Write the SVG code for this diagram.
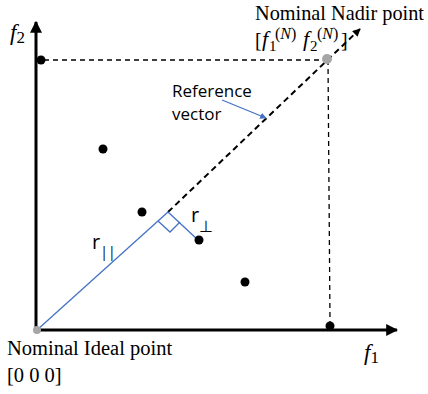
<svg xmlns="http://www.w3.org/2000/svg" width="428" height="394" viewBox="0 0 428 394">
<defs>
<style>
.serif{font-family:"Liberation Serif","Times New Roman",serif;fill:#000}
.sans{font-family:"Open Sans","Liberation Sans",Arial,sans-serif;fill:#000}
.axis{stroke:#000;stroke-width:3;fill:none}
.dash{stroke:#000;stroke-width:1.3;stroke-dasharray:5,4;fill:none}
.dashb{stroke:#000;stroke-width:2;stroke-dasharray:6,4;fill:none}
.blue{stroke:#4472C4;stroke-width:1.3;fill:none}
.dot{fill:#000}
.gdot{fill:#a6a6a6}
</style>
<marker id="ah" viewBox="0 0 10 10" refX="9" refY="5" markerWidth="4" markerHeight="4" orient="auto" markerUnits="strokeWidth"><path d="M0,0 L10,5 L0,10 z" fill="#000"/></marker>
<marker id="ahd" viewBox="0 0 10 10" refX="9" refY="5" markerWidth="4" markerHeight="4" orient="auto" markerUnits="strokeWidth"><path d="M0,0 L10,5 L0,10 z" fill="#000"/></marker>
<marker id="ahb" viewBox="0 0 10 10" refX="9" refY="5" markerWidth="5" markerHeight="5" orient="auto" markerUnits="strokeWidth"><path d="M0,0 L10,5 L0,10 z" fill="#4472C4"/></marker>
</defs>
<g id="connectors">
<line class="axis" x1="36" y1="330" x2="36" y2="22" marker-end="url(#ah)"/>
<line class="axis" x1="36" y1="330" x2="397" y2="330" marker-end="url(#ah)"/>
<line class="dash" x1="44" y1="60" x2="327" y2="60"/>
<line class="dash" x1="328" y1="60" x2="330" y2="322"/>
<line class="dashb" x1="168" y1="212" x2="360" y2="29" marker-end="url(#ahd)"/>
<line class="blue" x1="37" y1="330" x2="168" y2="212"/>
<line class="blue" x1="168" y1="212" x2="198" y2="240"/>
<polyline class="blue" points="158,221 170,232 180,222"/>
<line class="blue" x1="222" y1="100" x2="266" y2="118" marker-end="url(#ahb)"/>
</g>
<g id="ideal-point"><circle class="gdot" cx="37" cy="330" r="4"/>
<text class="serif" x="7" y="355" font-size="20.5">Nominal Ideal point</text>
<text class="serif" x="7" y="382" font-size="20.5">[0 0 0]</text></g>
<g id="nadir-point"><circle class="gdot" cx="327" cy="59" r="5"/>
<text class="serif" x="255" y="20" font-size="20.3">Nominal Nadir point</text>
<text class="serif" font-size="20"><tspan x="255" y="47">[</tspan><tspan x="262" y="46" font-size="22" font-style="italic">f</tspan><tspan x="269" y="51" font-size="15">1</tspan><tspan x="275" y="39" font-size="16">(<tspan font-style="italic">N</tspan>)</tspan><tspan x="303" y="46" font-size="22" font-style="italic">f</tspan><tspan x="310" y="51" font-size="15">2</tspan><tspan x="317" y="39" font-size="16">(<tspan font-style="italic">N</tspan>)</tspan><tspan x="341" y="47">]</tspan></text></g>
<g id="axis-labels">
<text class="serif" x="10" y="40" font-size="23" font-style="italic">f<tspan font-size="17" font-style="normal" dy="3">2</tspan></text>
<text class="serif" x="364" y="360" font-size="23" font-style="italic">f<tspan font-size="17" font-style="normal" dy="3">1</tspan></text>
</g>
<g id="reference-vector-label">
<text class="sans" x="172" y="97" font-size="17">Reference</text>
<text class="sans" x="172" y="120" font-size="17">vector</text>
</g>
<g id="r-labels">
<text class="sans" x="92" y="249" font-size="20">r<tspan font-size="14" dy="8">||</tspan></text>
<text class="sans" x="191" y="222" font-size="20">r<tspan font-size="16" dy="10">⊥</tspan></text>
</g>
<g id="points">
<circle class="dot" cx="41" cy="60" r="4.5"/>
<circle class="dot" cx="103" cy="149" r="4.5"/>
<circle class="dot" cx="142" cy="212" r="4.5"/>
<circle class="dot" cx="199" cy="240" r="4.5"/>
<circle class="dot" cx="245" cy="282" r="4.5"/>
<circle class="dot" cx="330" cy="326" r="4.5"/>
</g>
</svg>
